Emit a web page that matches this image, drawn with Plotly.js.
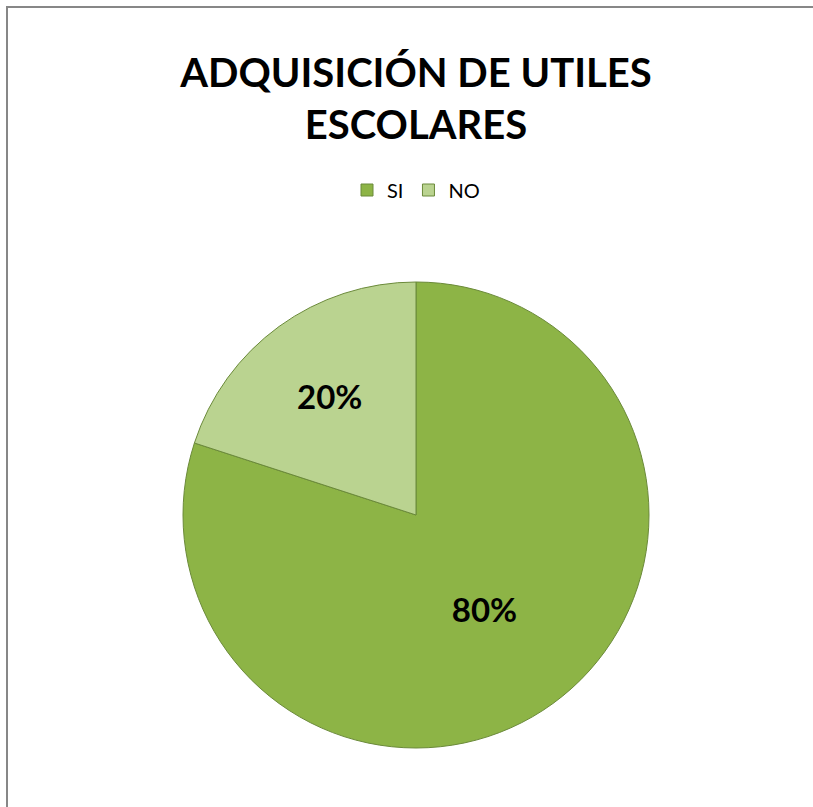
<!DOCTYPE html>
<html>
<head>
<meta charset="utf-8">
<script src="https://cdn.plot.ly/plotly-3.0.1.min.js"></script>
<style>
html,body{margin:0;padding:0;background:#fff;}
#frame{position:absolute;left:6px;top:6px;width:807px;height:801px;border-left:2px solid #878787;border-top:2px solid #878787;}
#chart{position:absolute;left:0;top:0;width:813px;height:807px;}
</style>
</head>
<body>
<div id="frame"></div>
<div id="chart"></div>
<script>
var categories = ["SI", "NO"];
var values = [80, 20];
var sliceColors = ["#8db446", "#bad390"];
var titleText = "ADQUISICIÓN DE UTILES<br>ESCOLARES";

var trace = {
  type: "pie",
  labels: categories,
  values: values,
  sort: false,
  direction: "clockwise",
  rotation: 0,
  marker: {colors: sliceColors, line: {color: "#6b8a3a", width: 1}},
  textinfo: "percent",
  texttemplate: "%{percent:.0%}",
  textposition: "inside",
  insidetextorientation: "horizontal",
  textfont: {family: "Lato, 'Open Sans', sans-serif", size: 33, color: "#000", weight: "bold"},
  hoverinfo: "label+percent"
};

var layout = {
  width: 813,
  height: 807,
  paper_bgcolor: "rgba(0,0,0,0)",
  plot_bgcolor: "rgba(0,0,0,0)",
  margin: {l: 183, r: 164, t: 282, b: 59, pad: 0},
  title: {
    text: "<b>" + titleText + "</b>",
    font: {family: "Lato, 'Open Sans', sans-serif", size: 40, color: "#000"},
    x: 416/813, xref: "container", xanchor: "center",
    y: 1 - 87/807, yref: "container", yanchor: "middle"
  },
  showlegend: true,
  legend: {
    orientation: "h",
    x: 0.5, xanchor: "center",
    y: (748-190)/466, yanchor: "middle",
    font: {family: "Lato, 'Open Sans', sans-serif", size: 20, color: "#000"},
    itemwidth: 30
  }
};

Plotly.newPlot("chart", [trace], layout, {displayModeBar: false});
</script>
</body>
</html>
